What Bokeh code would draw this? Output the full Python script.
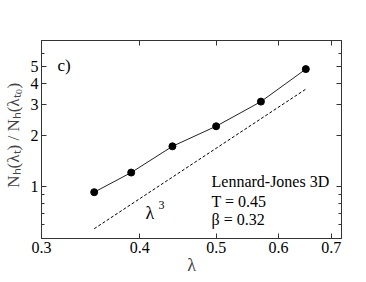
from bokeh.plotting import figure
from bokeh.models import Label, LogAxis, FixedTicker, CustomJSTickFormatter
from bokeh.embed import file_html
from bokeh.resources import INLINE

# ---- data ----
lam = [0.35, 0.39, 0.44, 0.50, 0.57, 0.65]
ratio = [0.93, 1.21, 1.72, 2.25, 3.13, 4.84]
lam_ref = [0.35, 0.65]
ref = [0.57, 3.70]
x_ticks = [0.3, 0.4, 0.5, 0.6, 0.7]
y_ticks = [1, 2, 3, 4, 5]
y_minor = [0.6, 0.7, 0.8, 0.9, 6]

FONT = "Liberation Serif, Times New Roman, serif"

p = figure(width=361, height=278, output_backend="svg", toolbar_location=None,
           x_axis_type="log", y_axis_type="log",
           x_range=(0.3, 0.7215), y_range=(0.5, 7.1),
           min_border_left=40, min_border_right=20, min_border_top=40, min_border_bottom=40)
p.xgrid.visible = False
p.ygrid.visible = False
p.outline_line_color = "#333333"
p.background_fill_color = "white"
p.border_fill_color = "white"

bottom = p.xaxis[0]
left = p.yaxis[0]

def style_axis(ax, ticks, minor, show_labels):
    ax.ticker = FixedTicker(ticks=ticks, minor_ticks=minor)
    ax.major_tick_in = 5
    ax.major_tick_out = 0
    ax.minor_tick_in = 3
    ax.minor_tick_out = 0
    ax.axis_line_color = "#333333"
    ax.major_tick_line_color = "#333333"
    ax.minor_tick_line_color = "#333333"
    ax.major_label_text_font = FONT
    ax.major_label_text_font_size = "16px"
    ax.major_label_text_color = "black"
    ax.major_label_standoff = 3 if show_labels else 0
    if not show_labels:
        ax.formatter = CustomJSTickFormatter(code="return ''")

style_axis(bottom, x_ticks, [], True)
style_axis(left, y_ticks, y_minor, True)
top = LogAxis()
style_axis(top, x_ticks, [], False)
right = LogAxis()
style_axis(right, y_ticks, y_minor, False)
p.add_layout(top, "above")
p.add_layout(right, "right")

bottom.axis_label = "λ"
bottom.axis_label_text_font = FONT
bottom.axis_label_text_font_style = "normal"
bottom.axis_label_text_font_size = "18px"
bottom.axis_label_standoff = -1

left.axis_label = "\u00a0" * 2 + "Nₕ(λₜ) / Nₕ(λₜ₀)"
left.axis_label_text_font = FONT
left.axis_label_text_font_style = "normal"
left.axis_label_text_font_size = "17px"
left.axis_label_standoff = 5

# ---- marks ----
p.line(lam_ref, ref, line_color="black", line_width=1, line_dash="3 2")
p.line(lam, ratio, line_color="#222222", line_width=1)
p.scatter(lam, ratio, size=7, marker="circle", fill_color="black", line_color="black")

# ---- texts inside the frame (screen units from frame bottom-left) ----
def lab(text, sx, sy, size):
    p.add_layout(Label(x=sx, y=sy, x_units="screen", y_units="screen", text=text,
                       text_font=FONT, text_font_size=f"{size}px", text_color="black",
                       text_align="left", text_baseline="alphabetic"))

lab("c)", 16, 173, 17)
lab("Lennard-Jones 3D", 170, 57, 16)
lab("T = 0.45", 170, 37, 16)
lab("β = 0.32", 170, 19, 16)
lab("λ", 104, 26, 18)
lab("3", 117, 34, 12)

open("out.html", "w").write(file_html(p, INLINE))
